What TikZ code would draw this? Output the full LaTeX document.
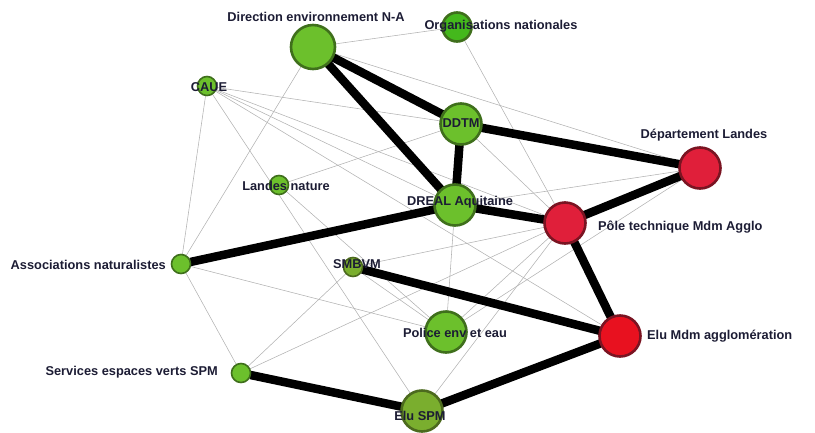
\documentclass[tikz,border=0pt]{standalone}
\usepackage{fontspec}
\setmainfont{Liberation Sans}
\usetikzlibrary{backgrounds}
\definecolor{leafgreen}{HTML}{6CC02C}
\definecolor{leafborder}{HTML}{3F6F1C}
\definecolor{deepgreen}{HTML}{44B81C}
\definecolor{olivegreen}{HTML}{7AAE2E}
\definecolor{olivebord}{HTML}{4C6A1E}
\definecolor{actorred}{HTML}{E01F3A}
\definecolor{brightred}{HTML}{E8111F}
\definecolor{redborder}{HTML}{7A1422}
\definecolor{labelink}{HTML}{1C1C34}
\tikzset{
actor/.style={circle,inner sep=0pt,outer sep=0pt,draw=leafborder,fill=leafgreen,line width=2.6pt,minimum size=#1},
actor/.default=41pt,
small actor/.style={actor=19pt,line width=1.6pt},
red actor/.style={actor,draw=redborder,fill=actorred},
olive actor/.style={draw=olivebord,fill=olivegreen},
lbl/.style={font=\bfseries\fontsize{12.8}{15}\selectfont,text=labelink,inner sep=0pt},
weak/.style={gray!60,line width=0.55pt},
strong/.style={black,line width=8.5pt},
}

\begin{document}
\begin{tikzpicture}[x=1pt,y=-1pt]
    \useasboundingbox (0,0) rectangle (815,432);

    % actors
    \node[actor=44pt] (dirEnv) at (313,47) {};
    \node[actor=29pt,fill=deepgreen] (orgNat) at (457,27) {};
    \node[small actor] (caue) at (207,86) {};
    \node[actor] (ddtm) at (461,124) {};
    \node[red actor] (depLandes) at (700,168) {};
    \node[small actor] (landesNat) at (279,185) {};
    \node[actor] (dreal) at (455,205) {};
    \node[red actor] (pole) at (565,223) {};
    \node[small actor] (assocNat) at (181,264) {};
    \node[small actor,olive actor] (smbvm) at (353,267) {};
    \node[actor] (police) at (446,332) {};
    \node[red actor,fill=brightred] (eluMdm) at (620,336) {};
    \node[small actor] (servEsp) at (241,373) {};
    \node[actor,olive actor] (eluSpm) at (422,411) {};

    % links
    \begin{scope}[on background layer]
        \foreach \a/\b in {dirEnv/orgNat, dirEnv/assocNat, dirEnv/depLandes,
            orgNat/pole, caue/assocNat, caue/eluSpm, caue/ddtm, caue/dreal,
            caue/pole, caue/eluMdm, landesNat/ddtm, landesNat/police,
            assocNat/servEsp, assocNat/police, servEsp/smbvm, servEsp/pole,
            smbvm/pole, smbvm/police, dreal/police, dreal/depLandes,
            ddtm/pole, pole/police, pole/eluSpm, police/depLandes}
            \draw[weak] (\a) -- (\b);
        \foreach \a/\b in {dirEnv/ddtm, dirEnv/dreal, ddtm/dreal,
            ddtm/depLandes, dreal/pole, dreal/assocNat, pole/depLandes,
            pole/eluMdm, smbvm/eluMdm, eluMdm/eluSpm, servEsp/eluSpm}
            \draw[strong] (\a) -- (\b);
    \end{scope}

    % labels
    \node[lbl] (dirEnvL) at (316,17) {Direction environnement N-A};
    \node[lbl] (orgNatL) at (501,26) {Organisations nationales};
    \node[lbl] (caueL) at (209,87) {CAUE};
    \node[lbl] (ddtmL) at (461,123) {DDTM};
    \node[lbl] (depLandesL) at (704,135) {Département Landes};
    \node[lbl] (landesNatL) at (286,186) {Landes nature};
    \node[lbl] (drealL) at (460,202) {DREAL Aquitaine};
    \node[lbl,anchor=west] (poleL) at (598,227) {Pôle technique Mdm Agglo};
    \node[lbl,anchor=east] (assocNatL) at (166,265) {Associations naturalistes};
    \node[lbl] (smbvmL) at (357,264) {SMBVM};
    \node[lbl] (policeL) at (455,333) {Police env et eau};
    \node[lbl,anchor=west] (eluMdmL) at (647,336) {Elu Mdm agglomération};
    \node[lbl,anchor=east] (servEspL) at (218,372) {Services espaces verts SPM};
    \node[lbl] (eluSpmL) at (420,416) {Elu SPM};
\end{tikzpicture}
\end{document}
